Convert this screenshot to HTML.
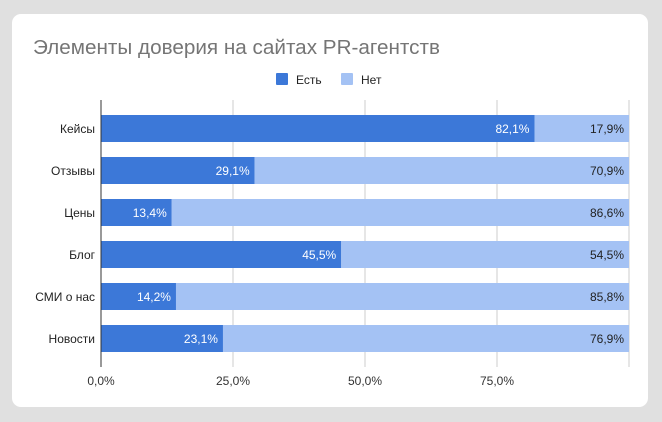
<!DOCTYPE html>
<html><head><meta charset="utf-8"><style>
body{margin:0;background:#e0e0e0;width:662px;height:422px;overflow:hidden;font-family:"Liberation Sans",sans-serif}
#card{position:absolute;left:12px;top:14px;width:636px;height:393px;background:#fff;border-radius:9px}
</style></head><body>
<div id="card"></div>
<svg id="chart" width="662" height="422" style="position:absolute;left:0;top:0">
<text x="33" y="54" font-size="20" fill="#757575" textLength="407" lengthAdjust="spacingAndGlyphs">Элементы доверия на сайтах PR-агентств</text>
<g>
<rect x="276" y="73" width="12" height="12" rx="1" fill="#3c78d8"/>
<text x="296" y="84" font-size="12" fill="#222">Есть</text>
<rect x="341" y="73" width="12" height="12" rx="1" fill="#a4c2f4"/>
<text x="361" y="84" font-size="12" fill="#222">Нет</text>
</g>
</svg>
<script>
const categories=["Кейсы","Отзывы","Цены","Блог","СМИ о нас","Новости"];
const yesValues=[82.1,29.1,13.4,45.5,14.2,23.1];
const noValues=[17.9,70.9,86.6,54.5,85.8,76.9];
const ticks=[0,25,50,75];
const svg=document.getElementById('chart');
const NS='http://www.w3.org/2000/svg';
const x0=101,x1=629;
const X=v=>x0+(x1-x0)*v/100;
const Y=i=>115+i*42;
const bh=27;
const fmt=v=>v.toFixed(1).replace('.',',')+'%';
function mk(t,a,txt){const e=document.createElementNS(NS,t);for(const k in a)e.setAttribute(k,a[k]);if(txt!=null)e.textContent=txt;svg.appendChild(e);return e;}
ticks.concat([100]).forEach((t,i)=>{
 const g=mk('line',{x1:X(t),x2:X(t),y1:100,y2:367,stroke:t===0?'#333':'#ccc','stroke-width':1});
 
 
});
ticks.forEach(t=>{
 const l=mk('text',{x:X(t),y:385,'font-size':12,fill:'#333','text-anchor':'middle'},fmt(t));
 
 
});
categories.forEach((c,i)=>{
 const y=Y(i);
 const a=mk('rect',{x:X(0),y:y,width:X(yesValues[i])-X(0),height:bh,fill:'#3c78d8'});
 
 
 const b=mk('rect',{x:X(yesValues[i]),y:y,width:X(yesValues[i]+noValues[i])-X(yesValues[i]),height:bh,fill:'#a4c2f4'});
 
 
 const ly=mk('text',{x:X(yesValues[i])-5,y:y+18,'font-size':12,fill:'#fff','text-anchor':'end'},fmt(yesValues[i]));
 
 
 const ln=mk('text',{x:X(yesValues[i]+noValues[i])-5,y:y+18,'font-size':12,fill:'#222','text-anchor':'end'},fmt(noValues[i]));
 
 
 const cl=mk('text',{x:95,y:y+18,'font-size':12,fill:'#222','text-anchor':'end'},c);
 
 
});
const ax=mk('line',{x1:X(0),x2:X(0),y1:100,y2:367,stroke:'#333','stroke-width':1});


</script>
</body></html>
